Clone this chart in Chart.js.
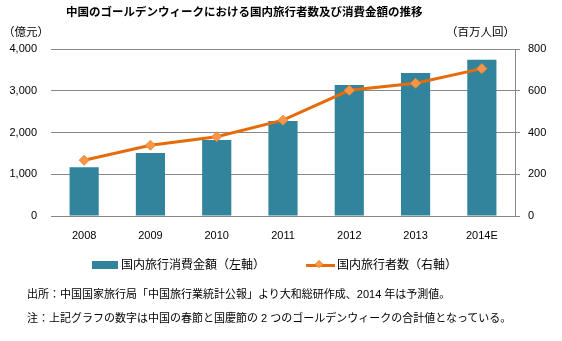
<!DOCTYPE html>
<html><head><meta charset="utf-8">
<script src="https://cdn.jsdelivr.net/npm/chart.js@4/dist/chart.umd.min.js"></script>
<style>
html,body{margin:0;padding:0;background:#fff;}
#wrap{position:relative;width:562px;height:341px;overflow:hidden;font-family:"Liberation Sans","Noto Sans CJK JP",sans-serif;color:#000;}
canvas{position:absolute;left:0;top:0;}
.t{position:absolute;white-space:nowrap;line-height:1;}
</style></head>
<body>
<div id="wrap">
<canvas id="c" width="562" height="341"></canvas>
<div class="t" id="title" style="left:66px;top:7px;font-size:11.5px;font-weight:bold;">中国のゴールデンウィークにおける国内旅行者数及び消費金額の推移</div>
<div class="t" style="left:3px;top:27px;font-size:11.5px;">（億元）</div>
<div class="t" style="left:446px;top:27px;font-size:11.5px;">（百万人回）</div>
<div class="t" style="left:92px;top:261px;width:26px;height:8px;background:#31849B;"></div>
<div class="t" style="left:121px;top:259px;font-size:12px;">国内旅行消費金額（左軸）</div>
<div class="t" style="left:306px;top:264px;width:29px;height:3px;background:#E46C0A;"></div>
<div class="t" style="left:316px;top:261px;width:6px;height:6px;background:#F79646;transform:rotate(45deg);"></div>
<div class="t" style="left:337px;top:259px;font-size:12px;">国内旅行者数（右軸）</div>
<div class="t" style="left:27px;top:289px;font-size:11px;">出所：中国国家旅行局「中国旅行業統計公報」より大和総研作成、2014 年は予測値。</div>
<div class="t" style="left:27px;top:313px;font-size:11px;">注：上記グラフの数字は中国の春節と国慶節の 2 つのゴールデンウィークの合計値となっている。</div>
</div>
<script>
const categories = ["2008","2009","2010","2011","2012","2013","2014E"];
const spending = [1170, 1510, 1820, 2275, 3140, 3425, 3740];
const travelers = [267, 339, 380, 459, 602, 636, 706];
const leftTicks = [0, 1000, 2000, 3000, 4000];
const rightTicks = [0, 200, 400, 600, 800];

const FONT = {family: '"Liberation Sans","Noto Sans CJK JP",sans-serif', size: 11};
const GRID = '#888888';

new Chart(document.getElementById('c'), {
  data: {
    labels: categories,
    datasets: [
      {type:'line', label:'国内旅行者数（右軸）', data: travelers, yAxisID:'y1', order:0,
       borderColor:'#E46C0A', borderWidth:3, backgroundColor:'#F79646',
       pointStyle:'rectRot', pointRadius:5, pointBorderColor:'#F08A3A', pointBorderWidth:1,
       pointBackgroundColor:'#F79646', tension:0, fill:false},
      {type:'bar', label:'国内旅行消費金額（左軸）', data: spending, yAxisID:'y', order:1,
       backgroundColor:'#31849B', categoryPercentage:1, barPercentage:0.44}
    ]
  },
  options: {
    responsive:false, animation:false,
    layout:{padding:{top:49,left:0,right:0,bottom:0}},
    plugins:{legend:{display:false}, title:{display:false}, tooltip:{enabled:false}},
    scales:{
      x:{offset:true, grid:{display:false, drawTicks:false},
         border:{display:true, color:GRID, width:1},
         ticks:{color:'#000', font:FONT, padding:13, maxRotation:0},
         afterFit(s){ s.height = 125; }},
      y:{position:'left', min:0, max:4000,
         afterBuildTicks(s){ s.ticks = leftTicks.map(v=>({value:v})); },
         grid:{color:GRID, lineWidth:1, drawTicks:false},
         border:{display:false},
         ticks:{color:'#000', font:FONT, padding:14,
                callback:(v)=>v.toLocaleString('en-US')},
         afterFit(s){ s.width = 51; }},
      y1:{position:'right', min:0, max:800,
          afterBuildTicks(s){ s.ticks = rightTicks.map(v=>({value:v})); },
          grid:{drawOnChartArea:false, color:GRID, tickLength:5, lineWidth:1},
          border:{display:true, color:GRID, width:1},
          ticks:{color:'#000', font:FONT, padding:8},
          afterFit(s){ s.width = 47; }}
    }
  }
});
</script>
</body></html>
